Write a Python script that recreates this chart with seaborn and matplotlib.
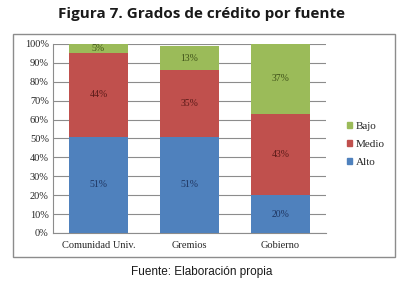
import numpy as np
import pandas as pd
import matplotlib.pyplot as plt
import seaborn as sns
from matplotlib.patches import Rectangle, Patch

# datos
fuentes = ['Comunidad Univ.', 'Gremios', 'Gobierno']
alto = [51, 51, 20]
medio = [44, 35, 43]
bajo = [5, 13, 37]

colores = {'Alto': '#4F81BD', 'Medio': '#C0504D', 'Bajo': '#9BBB59'}
texto_col = {'Alto': '#1F3560', 'Medio': '#5A1A18', 'Bajo': '#3F5218'}

df = pd.DataFrame({'fuente': fuentes, 'Alto': alto, 'Medio': medio, 'Bajo': bajo})
df['c_alto'] = df['Alto']
df['c_medio'] = df['Alto'] + df['Medio']
df['c_bajo'] = df['c_medio'] + df['Bajo']

sns.set_style('white')
plt.rcParams['font.family'] = ['Liberation Serif', 'DejaVu Serif']

fig = plt.figure(figsize=(4.03, 2.89), dpi=100)
ax = fig.add_axes([0.1315, 0.194, 0.677, 0.654])

# stacked bars by layering cumulative totals
for col, serie in [('c_bajo', 'Bajo'), ('c_medio', 'Medio'), ('c_alto', 'Alto')]:
    sns.barplot(data=df, x='fuente', y=col, color=colores[serie], width=0.65,
                saturation=1, linewidth=0, ax=ax, zorder=3)

# etiquetas
for i, row in df.iterrows():
    base = 0
    for serie in ['Alto', 'Medio', 'Bajo']:
        v = row[serie]
        ax.text(i, base + v / 2, f'{v}%', ha='center', va='center',
                fontsize=7, color=texto_col[serie], zorder=4)
        base += v

ax.set_ylim(0, 100)
ax.set_xlim(-0.5, 2.5)
ax.set_yticks(np.arange(0, 101, 10))
ax.set_yticklabels([f'{t}%' for t in range(0, 101, 10)], fontsize=7.5)
ax.tick_params(axis='x', labelsize=7.5, length=0, pad=6)
ax.tick_params(axis='y', length=0, pad=3)
ax.set_xlabel('')
ax.set_ylabel('')
ax.grid(axis='y', color='#8c8c8c', linewidth=0.8, zorder=0)
ax.set_axisbelow(True)
for s in ['top', 'right']:
    ax.spines[s].set_visible(False)
for s in ['left', 'bottom']:
    ax.spines[s].set_color('#8c8c8c')
    ax.spines[s].set_linewidth(0.8)

handles = [Patch(color=colores[s], label=s) for s in ['Bajo', 'Medio', 'Alto']]
fig.legend(handles=handles, loc='center left', bbox_to_anchor=(0.835, 0.50),
           frameon=False, fontsize=8, handlelength=0.5, handleheight=0.5,
           handletextpad=0.3, labelspacing=0.8)

# marco del grafico
fig.patches.append(Rectangle((0.032, 0.111), 0.948, 0.772, transform=fig.transFigure,
                             fill=False, edgecolor='#8c8c8c', linewidth=1.0))

fig.text(0.5, 0.952, 'Figura 7. Grados de crédito por fuente', ha='center', va='center',
         fontsize=11, fontweight='bold', family=['Open Sans', 'DejaVu Sans'], color='#1a1a1a')
fig.text(0.5, 0.058, 'Fuente: Elaboración propia', ha='center', va='center',
         fontsize=8.5, family=['Liberation Sans', 'DejaVu Sans'], color='#1a1a1a')

fig.savefig('out.png', dpi=100)
